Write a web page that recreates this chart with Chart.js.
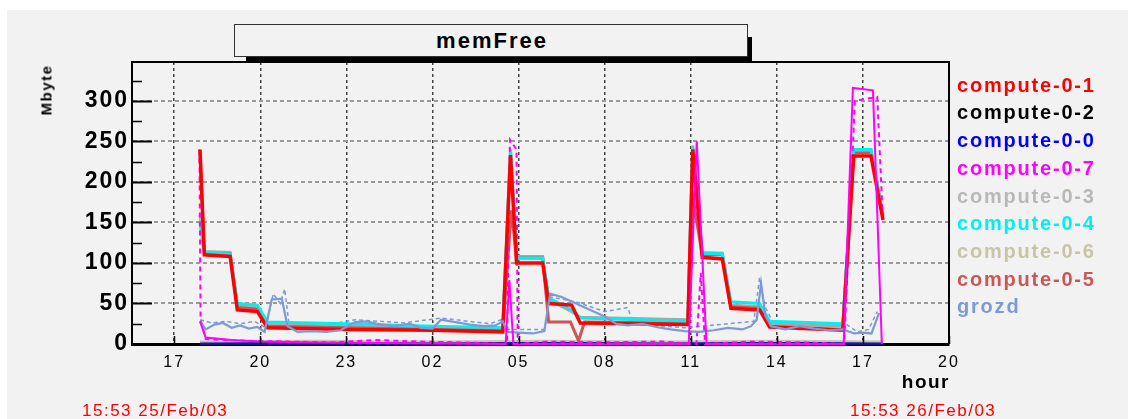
<!DOCTYPE html>
<html>
<head>
<meta charset="utf-8">
<script src="https://cdn.jsdelivr.net/npm/chart.js@4.4.1/dist/chart.umd.min.js"></script>
<style>
body { margin: 0; background: #fff; }
#wrap { position: relative; width: 1128px; height: 419px; font-family: 'Liberation Sans', Arial, sans-serif; }
#c { position: absolute; left: 0; top: 0; }
.lbl { position: absolute; white-space: nowrap; line-height: 1; }
#shadow { position: absolute; left: 246px; top: 37px; width: 506px; height: 25px; background: #000; }
#titlebox { position: absolute; left: 234px; top: 24px; width: 510px; height: 31px; border: 1px solid #333; background: #f2f2f2;
  display: flex; align-items: center; justify-content: center; font-weight: bold; font-size: 22px; letter-spacing: 2px; padding-left: 2px; box-sizing: content-box; }
</style>
</head>
<body>
<div id="wrap">
  <canvas id="c" width="1128" height="419"></canvas>
  <div id="shadow"></div>
  <div id="titlebox">memFree</div>
  <div class="lbl" id="ylab" style="left:46px;top:90px;font-size:15px;font-weight:bold;letter-spacing:1.5px;transform:translate(-50%,-50%) rotate(-90deg);">Mbyte</div>
  <div class="lbl" style="right:178px;top:372px;font-size:19px;font-weight:bold;letter-spacing:1.5px;">hour</div>
  <div class="lbl" style="left:82px;top:402px;font-size:17px;color:#ff0000;letter-spacing:1.5px;">15:53 25/Feb/03</div>
  <div class="lbl" style="left:850px;top:402px;font-size:17px;color:#ff0000;letter-spacing:1.5px;">15:53 26/Feb/03</div>
  <div id="legend"></div>
</div>
<script>
// hours counted from midnight of 25/Feb (so 29 = 05:00 on 26/Feb)
const xTickHours = [17, 20, 23, 26, 29, 32, 35, 38, 41, 44];
const xTickLabels = ['17', '20', '23', '02', '05', '08', '11', '14', '17', '20'];
const yTickValues = [0, 50, 100, 150, 200, 250, 300];

const seriesNames = ['compute-0-1', 'compute-0-2', 'compute-0-0', 'compute-0-7', 'compute-0-3', 'compute-0-4', 'compute-0-6', 'compute-0-5', 'grozd'];
const seriesColors = ['#ff0000', '#000000', '#0000ff', '#ff00ff', '#b8b8b8', '#00f0f0', '#c8c4a8', '#cc5555', '#7b9ad6'];

const mainHours = [17.90, 18.05, 18.95, 19.20, 19.90, 20.25, 23.0, 26.0, 28.45, 28.72, 28.93, 29.84, 30.05, 30.85, 31.15, 34.90, 35.07, 35.40, 36.10, 36.40, 37.40, 37.75, 40.30, 40.68, 41.28, 41.70];
const compute01 = [240, 110, 108, 42, 40, 20, 18, 17, 15, 233, 100, 100, 50, 48, 26, 24, 240, 107, 105, 44, 42, 21, 17, 232, 232, 153];
const compute03 = [160, 114, 113, 48, 46, 24, 22, 20, 18, 240, 108, 108, 55, 40, 33, 30, 245, 113, 112, 48, 46, 25, 22, 240, 240, 160];
const compute04 = [150, 112, 111, 50, 48, 27, 25, 22, 20, 238, 106, 106, 57, 42, 32, 28, 242, 112, 111, 52, 50, 28, 25, 240, 240, 155];

const brownHours = [17.90, 18.05, 18.95, 19.20, 19.90, 20.25, 23.0, 26.0, 28.45, 28.75, 28.93, 29.84, 30.05, 30.81, 31.09, 31.30, 34.90, 35.10, 35.40, 36.10, 36.40, 37.40, 37.75, 40.30, 40.68, 41.28, 41.70];
const compute05 = [235, 112, 111, 45, 43, 22, 20, 18, 17, 165, 106, 106, 27, 27, 4, 27, 26, 175, 110, 110, 46, 44, 22, 18, 236, 236, 158];

const grozdHours = [17.90, 18.10, 18.40, 18.70, 19.00, 19.30, 19.60, 19.90, 20.15, 20.40, 20.75, 20.95, 21.30, 21.80, 22.30, 22.80, 23.30, 23.70, 24.20, 24.70, 25.20, 25.60, 26.00, 26.30, 26.80, 27.30, 27.80, 28.20, 28.45, 28.60, 29.00, 29.50, 29.90, 30.10, 30.50, 31.00, 31.50, 32.00, 32.40, 32.80, 33.30, 33.80, 34.30, 34.80, 35.30, 35.80, 36.30, 36.80, 37.10, 37.30, 37.45, 37.60, 37.80, 38.30, 38.80, 39.30, 39.80, 40.30, 40.70, 41.00, 41.30, 41.56];
const grozd = [28, 18, 24, 26, 20, 23, 19, 21, 15, 55, 56, 22, 15, 16, 15, 17, 27, 28, 24, 22, 25, 20, 19, 30, 27, 24, 22, 23, 28, 15, 14, 13, 16, 62, 58, 50, 42, 34, 25, 23, 25, 21, 18, 16, 15, 17, 20, 18, 22, 30, 75, 35, 22, 18, 22, 19, 17, 18, 13, 14, 13, 38];
const grozdDashHours = [17.90, 18.30, 18.80, 19.30, 19.80, 20.20, 20.45, 20.70, 20.85, 21.00, 21.50, 23.30, 25.00, 26.30, 28.00, 28.40, 28.60, 29.90, 30.10, 31.00, 32.00, 32.80, 33.00, 34.80, 37.20, 37.40, 37.60, 37.90, 39.00, 40.40, 40.80, 41.20, 41.50];
const grozdDash = [30, 26, 28, 25, 28, 20, 62, 50, 68, 25, 18, 30, 26, 32, 25, 30, 18, 18, 58, 52, 40, 45, 25, 20, 28, 82, 45, 25, 24, 25, 15, 18, 40];

const mag7Hours = [17.90, 18.10, 19.00, 20.00, 22.00, 25.00, 28.55, 28.68, 28.82, 34.93, 35.21, 35.55, 40.33, 40.65, 41.35, 41.66];
const compute07 = [28, 8, 5, 3, 2, 1, 0, 79, 0, 0, 250, 0, 0, 316, 313, 0];
const mag7DashHours = [17.88, 17.92, 18.10, 19.50, 21.00, 22.50, 24.00, 25.50, 27.00, 28.60, 28.70, 28.93, 28.97, 30.00, 32.00, 34.00, 35.20, 35.35, 35.50, 37.00, 39.00, 40.35, 40.72, 41.50, 41.70];
const compute07Dash = [240, 30, 6, 4, 3, 2, 5, 3, 2, 0, 252, 240, 0, 3, 2, 3, 0, 88, 0, 3, 2, 0, 300, 305, 150];

const flatHours = [17.90, 22.0, 26.0, 30.0, 34.0, 38.0, 41.70];
const compute06 = [3, 4, 3, 4, 3, 4, 3];
const compute00 = [1, 1, 1, 1, 1, 1, 1];
const compute02 = [0, 0, 0, 0, 0, 0, 0];

function pts(hours, vals) {
    return hours.map((h, i) => ({ x: h, y: vals[i] }));
}

function line(data, color, width, dash) {
    return { data: data, borderColor: color, borderWidth: width, borderDash: dash || [], pointRadius: 0, tension: 0, fill: false, clip: false };
}

// index 0 is drawn on top
const datasets = [
    line(pts(mag7Hours, compute07), '#ff00ff', 2),
    line(pts(grozdHours, grozd), '#7b9ad6', 2.2),
    line(pts(mainHours, compute01), '#ff0000', 3.5),
    line(pts(mag7DashHours, compute07Dash), '#ff00ff', 2, [5, 4]),
    line(pts(mainHours, compute04), '#00f0f0', 3),
    line(pts(brownHours, compute05), '#cc5555', 3),
    line(pts(mainHours, compute03), '#a8a8a8', 3),
    line(pts(grozdDashHours, grozdDash), '#7b9ad6', 1.5, [4, 3]),
    line(pts(flatHours, compute06), '#c8c4a8', 2),
    line(pts(flatHours, compute00), '#1818b0', 3),
    line(pts(flatHours, compute02), '#000000', 2)
];

const framePlugin = {
    id: 'frame',
    beforeDraw(chart) {
        const ctx = chart.ctx;
        ctx.save();
        ctx.fillStyle = '#ffffff';
        ctx.fillRect(0, 0, chart.width, chart.height);
        ctx.fillStyle = '#f2f2f2';
        ctx.fillRect(7, 10, chart.width - 7, chart.height - 10);
        ctx.restore();
        ctx.letterSpacing = '2px';
    },
    afterDraw(chart) {
        const ctx = chart.ctx;
        const a = chart.chartArea;
        const y = chart.scales.y, x = chart.scales.x;
        ctx.save();
        ctx.strokeStyle = '#000';
        ctx.lineWidth = 2;
        ctx.beginPath();
        ctx.moveTo(a.left, a.top); ctx.lineTo(a.right, a.top); ctx.lineTo(a.right, a.bottom);
        ctx.stroke();
        // inward ticks on the value axis
        for (let v = 0; v <= 325; v += 25) {
            const py = Math.round(y.getPixelForValue(v)) + 0.5;
            const major = v % 50 === 0;
            ctx.lineWidth = major ? 2 : 1.5;
            ctx.beginPath();
            ctx.moveTo(a.left, py); ctx.lineTo(a.left + (major ? 20 : 10), py);
            ctx.stroke();
        }
        ctx.lineWidth = 1.5;
        xTickHours.forEach(h => {
            const px = Math.round(x.getPixelForValue(h)) + 0.5;
            ctx.beginPath();
            ctx.moveTo(px, a.bottom); ctx.lineTo(px, a.bottom - 8);
            ctx.stroke();
        });
        ctx.restore();
    }
};

new Chart(document.getElementById('c'), {
    type: 'line',
    data: { datasets: datasets },
    options: {
        responsive: false,
        animation: false,
        events: [],
        layout: { padding: { left: 0, top: 62, right: 179, bottom: 0 } },
        plugins: { legend: { display: false }, title: { display: false }, tooltip: { enabled: false } },
        scales: {
            x: {
                type: 'linear',
                min: 15.53,
                max: 44,
                afterBuildTicks: s => { s.ticks = xTickHours.map(v => ({ value: v })); },
                afterFit: s => { s.height = 75; },
                ticks: {
                    autoSkip: false, maxRotation: 0, padding: 9, color: '#000',
                    font: { family: "'Liberation Sans', Arial, sans-serif", size: 16 },
                    callback: (v, i) => xTickLabels[i]
                },
                grid: { color: '#444', lineWidth: 1.5, drawTicks: false },
                border: { display: true, color: '#000', width: 3, dash: [3, 3] }
            },
            y: {
                min: 0,
                max: 348,
                afterBuildTicks: s => { s.ticks = yTickValues.map(v => ({ value: v })); },
                afterFit: s => { s.width = 132; },
                ticks: {
                    padding: 3, color: '#000',
                    font: { family: "'Liberation Sans', Arial, sans-serif", size: 23, weight: 'bold' },
                    callback: v => String(v)
                },
                grid: { color: '#9a9a9a', lineWidth: 2, drawTicks: false },
                border: { display: true, color: '#000', width: 2, dash: [4, 3] }
            }
        }
    },
    plugins: [framePlugin]
});

// legend to the right of the frame
const legend = document.getElementById('legend');
seriesNames.forEach((name, i) => {
    const d = document.createElement('div');
    d.className = 'lbl';
    d.textContent = name;
    d.style.left = '957px';
    d.style.top = (84.5 + i * 27.7 - 9.8) + 'px';
    d.style.fontSize = '20px';
    d.style.fontWeight = 'bold';
    d.style.letterSpacing = '1.8px';
    d.style.color = seriesColors[i];
    legend.appendChild(d);
});
</script>
</body>
</html>
